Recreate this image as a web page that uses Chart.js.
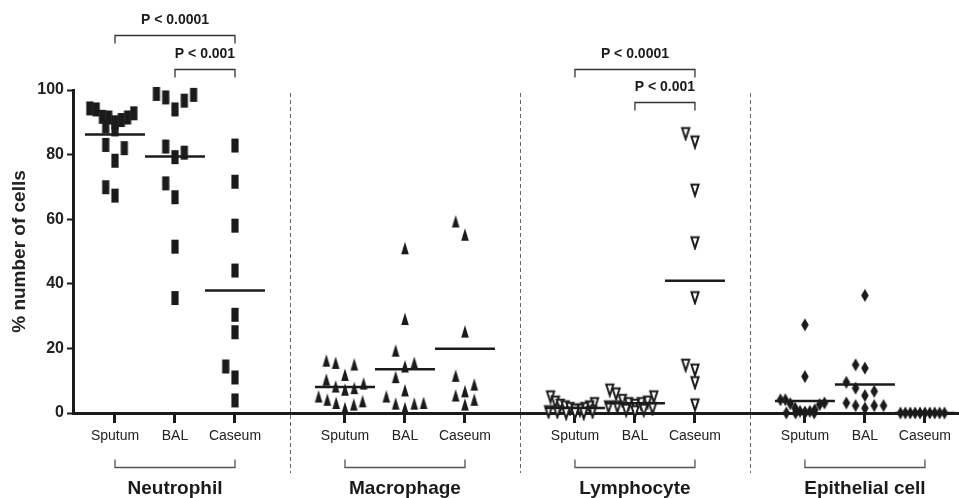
<!DOCTYPE html>
<html>
<head>
<meta charset="utf-8">
<title>Cell types by sample</title>
<script src="https://cdn.jsdelivr.net/npm/chart.js@4/dist/chart.umd.min.js"></script>
<style>
  html, body { margin: 0; padding: 0; background: #fff; }
  #wrap { width: 959px; height: 498px; }
</style>
</head>
<body>
<div id="wrap"><canvas id="chart" width="959" height="498"></canvas></div>
<script>
// categories
const groups = ['Neutrophil', 'Macrophage', 'Lymphocyte', 'Epithelial cell'];
const samples = ['Sputum', 'BAL', 'Caseum'];
const yTicks = [0, 20, 40, 60, 80, 100];

// % of cells (one value per patient)
const neutrophilSputum = [94.3, 94.0, 92.8, 91.7, 91.5, 91.5, 90.7, 90.0, 88.7, 87.8, 83.0, 82.0, 78.1, 69.9, 67.3];
const neutrophilBAL = [98.8, 98.5, 97.7, 96.7, 94.0, 82.5, 80.6, 79.2, 71.1, 66.8, 51.5, 35.6];
const neutrophilCaseum = [82.8, 71.6, 58.0, 44.1, 30.4, 25.0, 14.4, 11.0, 3.9];

const macrophageSputum = [16.2, 15.5, 15.0, 11.8, 10.3, 9.1, 8.2, 7.7, 7.2, 5.1, 4.1, 3.6, 3.1, 2.6, 1.5];
const macrophageBAL = [51.0, 29.1, 19.3, 15.5, 14.4, 11.1, 7.0, 5.1, 3.1, 2.9, 2.9, 1.5];
const macrophageCaseum = [59.3, 55.2, 25.2, 11.5, 8.8, 6.7, 5.4, 4.1, 2.6];

const lymphocyteSputum = [5.1, 3.5, 3.0, 2.5, 2.0, 2.0, 1.5, 1.5, 1.0, 1.0, 0.5, 0.5, 0.5, 0, 0, 0];
const lymphocyteBAL = [7.2, 6.0, 5.1, 4.0, 3.5, 3.0, 3.0, 2.5, 2.0, 2.0, 1.5, 1.0, 1.0, 0.5];
const lymphocyteCaseum = [86.6, 84.0, 69.1, 52.8, 35.8, 14.9, 13.4, 9.5, 2.6];

const epithelialSputum = [27.3, 11.3, 4.1, 4.1, 3.1, 2.9, 2.6, 1.5, 1.0, 0.5, 0.5, 0.3, 0, 0, 0, 0];
const epithelialBAL = [36.4, 14.9, 13.9, 9.5, 7.7, 6.7, 5.4, 3.1, 2.3, 2.3, 2.3, 1.5];
const epithelialCaseum = [0, 0, 0, 0, 0, 0, 0, 0, 0, 0];

const series = [
  [neutrophilSputum, neutrophilBAL, neutrophilCaseum],
  [macrophageSputum, macrophageBAL, macrophageCaseum],
  [lymphocyteSputum, lymphocyteBAL, lymphocyteCaseum],
  [epithelialSputum, epithelialBAL, epithelialCaseum]
];

// significance brackets
const comparisons = [
  { group: 0, from: 0, to: 2, label: 'P < 0.0001', level: 117 },
  { group: 0, from: 1, to: 2, label: 'P < 0.001', level: 106.5 },
  { group: 2, from: 0, to: 2, label: 'P < 0.0001', level: 106.6 },
  { group: 2, from: 1, to: 2, label: 'P < 0.001', level: 96.3 }
];

// layout of the x axis: one unit between samples, wider gap between groups
const GROUP_STEP = 3.833;
const X_MIN = -0.7, X_MAX = 14.067;
const PX_PER_X = (959 - 73) / (X_MAX - X_MIN);
const PX_PER_Y = (413 - 90) / 100;
const pos = (g, s) => g * GROUP_STEP + s;

const FONT = '"Liberation Sans", Arial, Helvetica, sans-serif';
const INK = '#1b1b1b';

// spread points that sit at about the same height sideways (dot plot style)
function swarm(values) {
  const rowPx = 16, step = 9.3, maxSpan = 44, maxPerRow = 10;
  const order = values.map((v, i) => i).sort((a, b) => values[b] - values[a]);
  const offsets = new Array(values.length).fill(0);
  let i = 0;
  while (i < order.length) {
    const top = values[order[i]];
    const row = [];
    while (i < order.length && row.length < maxPerRow && (top - values[order[i]]) * PX_PER_Y < rowPx) {
      row.push(order[i]);
      i++;
    }
    const n = row.length;
    const s = n > 1 ? Math.min(step, maxSpan / (n - 1)) : 0;
    const slots = [];
    for (let k = 0; k < n; k++) slots.push(k - Math.floor(n / 2));
    slots.sort((a, b) => Math.abs(b) - Math.abs(a) || a - b);
    row.forEach((idx, k) => { offsets[idx] = slots[k] * s / PX_PER_X; });
  }
  return offsets;
}

function makeMarker(kind) {
  const c = document.createElement('canvas');
  c.width = 12; c.height = 16;
  const g = c.getContext('2d');
  const cx = 6, cy = 8;
  g.fillStyle = INK;
  g.strokeStyle = INK;
  g.beginPath();
  if (kind === 'rect') {
    g.rect(cx - 3.6, cy - 7, 7.2, 14);
    g.fill();
  } else if (kind === 'up') {
    g.moveTo(cx, cy - 6.5);
    g.lineTo(cx + 3.8, cy + 6);
    g.lineTo(cx - 3.8, cy + 6);
    g.closePath();
    g.fill();
  } else if (kind === 'down') {
    g.lineWidth = 2;
    g.lineJoin = 'miter';
    g.moveTo(cx - 3.6, cy - 5.2);
    g.lineTo(cx + 3.6, cy - 5.2);
    g.lineTo(cx, cy + 5.8);
    g.closePath();
    g.fillStyle = '#fff';
    g.fill();
    g.stroke();
  } else {
    g.moveTo(cx, cy - 6.5);
    g.lineTo(cx + 3.8, cy);
    g.lineTo(cx, cy + 6.5);
    g.lineTo(cx - 3.8, cy);
    g.closePath();
    g.fill();
  }
  return c;
}

const markers = ['rect', 'up', 'down', 'diamond'].map(makeMarker);
const mean = arr => arr.reduce((a, b) => a + b, 0) / arr.length;

const meanSets = [];
const pointSets = [];
series.forEach((grp, g) => {
  grp.forEach((vals, s) => {
    const c = pos(g, s);
    const m = mean(vals);
    meanSets.push({
      type: 'line',
      data: [{ x: c - 0.5, y: m }, { x: c + 0.5, y: m }],
      borderColor: INK,
      borderWidth: 2.5,
      pointRadius: 0,
      clip: false
    });
    const off = swarm(vals);
    pointSets.push({
      type: 'scatter',
      data: vals.map((v, i) => ({ x: c + off[i], y: v })),
      pointStyle: markers[g],
      pointRadius: 6,
      clip: false
    });
  });
});

const tickPositions = [];
groups.forEach((_, g) => samples.forEach((_, s) => tickPositions.push(pos(g, s))));

const decorations = {
  id: 'decorations',
  afterDraw(chart) {
    const { ctx, chartArea, scales: { x, y } } = chart;
    ctx.save();

    // dashed separators between cell types
    ctx.strokeStyle = '#666';
    ctx.lineWidth = 1;
    ctx.setLineDash([4, 3]);
    for (let g = 0; g < groups.length - 1; g++) {
      const px = Math.round(x.getPixelForValue((pos(g, 2) + pos(g + 1, 0)) / 2)) + 0.5;
      ctx.beginPath();
      ctx.moveTo(px, chartArea.top + 3);
      ctx.lineTo(px, chartArea.bottom + 60);
      ctx.stroke();
    }
    ctx.setLineDash([]);

    // group brackets and names under the axis
    ctx.strokeStyle = '#555';
    ctx.lineWidth = 1.3;
    ctx.fillStyle = '#1a1a1a';
    ctx.textAlign = 'center';
    ctx.textBaseline = 'middle';
    ctx.font = 'bold 19px ' + FONT;
    groups.forEach((name, g) => {
      const x0 = x.getPixelForValue(pos(g, 0));
      const x1 = x.getPixelForValue(pos(g, 2));
      const yb = chartArea.bottom + 54.5;
      ctx.beginPath();
      ctx.moveTo(x0, yb - 8);
      ctx.lineTo(x0, yb);
      ctx.lineTo(x1, yb);
      ctx.lineTo(x1, yb - 8);
      ctx.stroke();
      ctx.fillText(name, (x0 + x1) / 2, chartArea.bottom + 76);
    });

    // P value brackets
    ctx.strokeStyle = '#333';
    ctx.lineWidth = 1.3;
    ctx.font = 'bold 14px ' + FONT;
    comparisons.forEach(cmp => {
      const x0 = x.getPixelForValue(pos(cmp.group, cmp.from));
      const x1 = x.getPixelForValue(pos(cmp.group, cmp.to));
      const yb = Math.round(y.getPixelForValue(cmp.level)) + 0.5;
      ctx.beginPath();
      ctx.moveTo(x0, yb + 8);
      ctx.lineTo(x0, yb);
      ctx.lineTo(x1, yb);
      ctx.lineTo(x1, yb + 8);
      ctx.stroke();
      ctx.fillText(cmp.label, (x0 + x1) / 2, yb - 15);
    });

    ctx.restore();
  }
};

Chart.defaults.font.family = FONT;

new Chart(document.getElementById('chart'), {
  type: 'scatter',
  data: { datasets: [...meanSets, ...pointSets] },
  options: {
    responsive: false,
    devicePixelRatio: 1,
    animation: false,
    events: [],
    layout: { autoPadding: false, padding: { top: 90, left: 0, right: 0, bottom: 0 } },
    plugins: { legend: { display: false }, tooltip: { enabled: false } },
    scales: {
      x: {
        type: 'linear',
        min: X_MIN,
        max: X_MAX,
        afterBuildTicks: axis => { axis.ticks = tickPositions.map(v => ({ value: v })); },
        afterFit: axis => { axis.height = 85; },
        ticks: {
          callback: (v, i) => samples[i % samples.length],
          autoSkip: false,
          maxRotation: 0,
          padding: 5,
          color: '#222',
          font: { size: 14 }
        },
        grid: { drawOnChartArea: false, tickLength: 10, tickWidth: 3, tickColor: INK },
        border: { width: 3, color: INK }
      },
      y: {
        min: 0,
        max: 100,
        afterBuildTicks: axis => { axis.ticks = yTicks.map(v => ({ value: v })); },
        afterFit: axis => { axis.width = 73; },
        ticks: { padding: 3, color: '#222', font: { size: 16, weight: 'bold' } },
        grid: { drawOnChartArea: false, tickLength: 6, tickWidth: 2, tickColor: INK },
        border: { width: 3, color: INK },
        title: {
          display: true,
          text: '% number of cells',
          color: '#222',
          padding: { top: 8, bottom: 0 },
          font: { size: 19, weight: 'bold' }
        }
      }
    }
  },
  plugins: [decorations]
});
</script>
</body>
</html>
